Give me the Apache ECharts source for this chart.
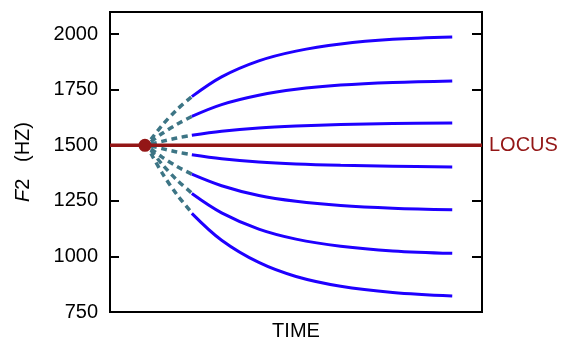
<!DOCTYPE html>
<html><head><meta charset="utf-8">
<script src="https://cdn.jsdelivr.net/npm/echarts@6/dist/echarts.min.js"></script>
<style>html,body{margin:0;padding:0;background:#fff}#c{width:561px;height:340px}</style>
</head><body><div id="c"></div>
<script>
// ---- data ----
const yTicks = [750, 1000, 1250, 1500, 1750, 2000];
const locusValue = 1500;
const locusTime = 9.4;
const locusSpan = [0, 100];
const solidTime = [22, 30, 40, 50, 62, 76, 92];
const dashTime = [11, 14, 18, 22];
const solid1 = [1719, 1808, 1880, 1924, 1956, 1977, 1988];
const solid2 = [1630, 1683, 1725, 1752, 1771, 1783, 1790];
const solid3 = [1545, 1563, 1578, 1587, 1594, 1598, 1600];
const solid4 = [1458, 1440, 1425, 1416, 1410, 1406, 1403];
const solid5 = [1370, 1318, 1274, 1248, 1229, 1217, 1210];
const solid6 = [1283, 1196, 1123, 1078, 1046, 1025, 1014];
const solid7 = [1194, 1073, 973, 910, 866, 838, 822];
const dash1 = [1527, 1590, 1661, 1719];
const dash2 = [1516, 1553, 1595, 1630];
const dash3 = [1506, 1518, 1533, 1545];
const dash4 = [1497, 1485, 1470, 1458];
const dash5 = [1484, 1447, 1405, 1370];
const dash6 = [1478, 1415, 1344, 1285];
const dash7 = [1464, 1376, 1278, 1197];
const yName = 'F2';
const xName = 'TIME';
const locusName = 'LOCUS';

// ---- chart ----
const FONT = 'Liberation Sans, Arial, sans-serif';
const solids = [solid1, solid2, solid3, solid4, solid5, solid6, solid7];
const dashes = [dash1, dash2, dash3, dash4, dash5, dash6, dash7];
const series = [];
dashes.forEach(d => series.push({
  type: 'line', data: dashTime.map((t, i) => [t, d[i]]), smooth: 0.3,
  symbol: 'none', z: 2,
  lineStyle: { color: '#3d7585', width: 3.5, type: [6, 4.5], cap: 'butt' }
}));
series.push({
  type: 'line', data: locusSpan.map(t => [t, locusValue]), symbol: 'none', z: 3,
  lineStyle: { color: '#931616', width: 3.5 },
  endLabel: { show: true, formatter: locusName, color: '#931616', fontSize: 20, fontFamily: FONT, distance: 7 }
});
series.push({
  type: 'scatter', data: [[locusTime, locusValue]], symbolSize: 13, z: 5,
  itemStyle: { color: '#931616', opacity: 1 }
});
solids.forEach(s => series.push({
  type: 'line', data: solidTime.map((t, i) => [t, s[i]]), smooth: 0.35,
  symbol: 'none', z: 4,
  lineStyle: { color: '#1f00ff', width: 3 }
}));

const chart = echarts.init(document.getElementById('c'), null, { renderer: 'canvas' });
chart.setOption({
  animation: false,
  grid: { left: 110, right: 79, top: 12, bottom: 28, show: true, borderColor: '#000', borderWidth: 2,
          containLabel: false, outerBoundsMode: 'none' },
  xAxis: {
    type: 'value', min: 0, max: 100,
    axisLine: { show: false }, axisTick: { show: false }, axisLabel: { show: false }, splitLine: { show: false },
    name: xName, nameLocation: 'middle', nameGap: 9,
    nameTextStyle: { fontSize: 20, fontFamily: FONT, color: '#000' }
  },
  yAxis: [{
    type: 'value', min: 750, max: 2100, position: 'left',
    axisLine: { show: false },
    axisTick: { show: true, inside: true, length: 9, customValues: yTicks, lineStyle: { color: '#000', width: 2 } },
    axisLabel: { customValues: yTicks, formatter: v => String(v), fontSize: 20, fontFamily: FONT, color: '#000', margin: 12 },
    splitLine: { show: false },
    name: '{i|F}' + yName.slice(1) + '   (HZ)', nameLocation: 'middle', nameGap: 77, nameRotate: 90,
    nameTextStyle: { fontSize: 20, fontFamily: FONT, color: '#000', rich: { i: { fontStyle: 'italic', fontSize: 20, fontFamily: FONT, color: '#000' } } }
  }, {
    type: 'value', min: 750, max: 2100, position: 'right',
    axisLine: { show: false },
    axisTick: { show: true, inside: true, length: 10, customValues: yTicks, lineStyle: { color: '#000', width: 2 } },
    axisLabel: { show: false }, splitLine: { show: false }
  }],
  series: series
});
</script></body></html>
